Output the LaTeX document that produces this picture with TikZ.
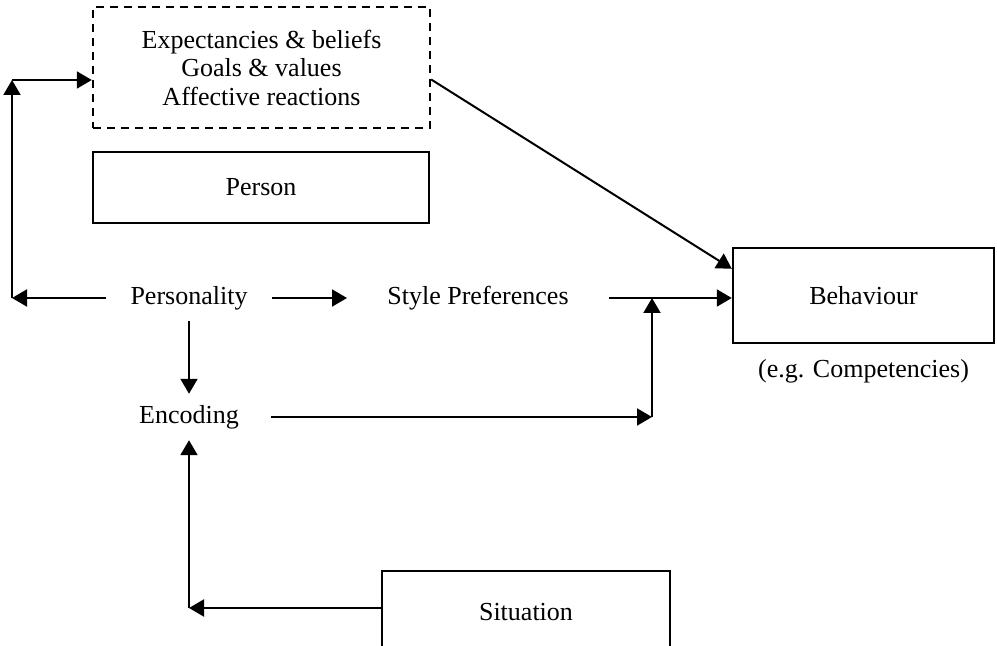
\documentclass[tikz,border=0pt]{standalone}
\usepackage{fontspec}
\setmainfont{Liberation Serif}
\usetikzlibrary{arrows.meta,positioning}

\begin{document}
\begin{tikzpicture}[x=0.5pt, y=-0.5pt,
    every node/.style={font=\fontsize{13}{14.25}\selectfont},
    box/.style={draw, rectangle, line width=1.2pt, align=center},
    lbl/.style={inner ysep=5.5pt},
    arr/.style={line width=1pt, -{Triangle[length=7.5pt, width=8.5pt]}}]
\useasboundingbox (0,0) rectangle (997,646);

% Person side: dashed box with the cognitive-affective units
\node[box, dashed, dash pattern=on 4pt off 3pt, minimum width=168.5pt, minimum height=60.5pt] (units) at (261.5,67.5) {
    Expectancies \& beliefs\\
    Goals \& values\\
    Affective reactions
};
\node[box, minimum width=168pt, minimum height=35.5pt] (person) at (261,187.5) {Person};

% Behaviour box
\node[box, minimum width=130.5pt, minimum height=47.5pt] (behav) at (863.5,295.5) {Behaviour};
\node[lbl, below=2pt of behav] (comp) {(e.g. Competencies)};

% plain labels
\node[lbl, inner xsep=12pt] (pers) at (189,298) {Personality};
\node[lbl, inner xsep=20pt] (style) at (478,298) {Style Preferences};
\node[lbl, inner xsep=16pt] (enc) at (189,417) {Encoding};

% Situation box (cut off at the bottom)
\node[box, minimum width=144pt, minimum height=41pt] (situ) at (526,612) {Situation};

% corners of the connectors
\coordinate (lft) at (12,298);
\coordinate (lfttop) at (12,80);
\coordinate (join) at (652,298);
\coordinate (sitcorner) at (189,608);

% connectors
\draw[arr] (pers.west) -- (lft);
\draw[arr] (lft) -- (lfttop);
\draw[arr] (lfttop) -- (lfttop -| units.west);
\draw[arr] (pers.east) -- (style.west);
\draw[arr] (style.east) -- (style.east -| behav.west);
\draw[arr] (pers.south) -- (enc.north);
\draw[arr] (enc.east) -- (enc.east -| join);
\draw[arr] (enc.east -| join) -- (join);
\draw[arr] ([yshift=-6pt]units.east) -- ([yshift=-11pt]behav.north west);
\draw[arr] (sitcorner -| situ.west) -- (sitcorner);
\draw[arr] (sitcorner) -- (enc.south);

\end{tikzpicture}
\end{document}
